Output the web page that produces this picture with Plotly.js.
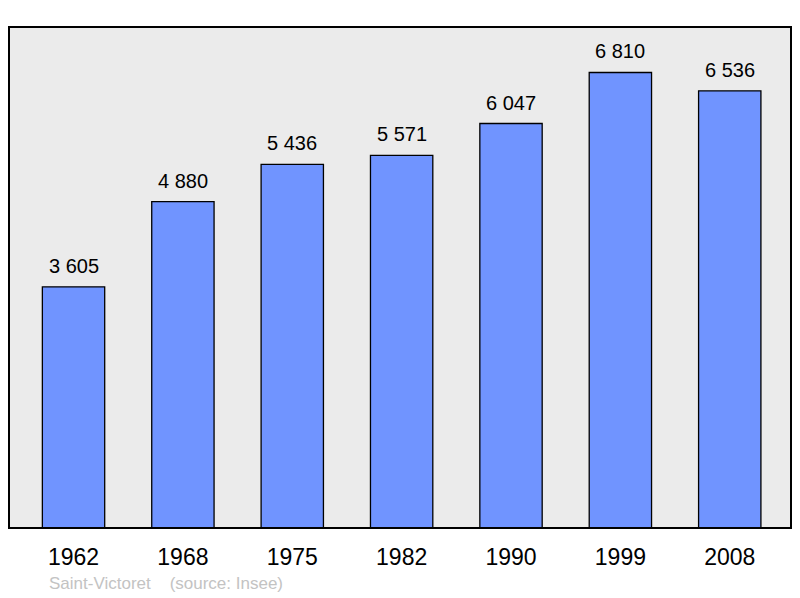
<!DOCTYPE html>
<html><head><meta charset="utf-8">
<script src="https://cdn.plot.ly/plotly-3.0.1.min.js"></script>
<style>html,body{margin:0;padding:0;background:#fff}#chart{width:800px;height:598px}</style>
</head><body><div id="chart"></div>
<script>
const years = ["1962","1968","1975","1982","1990","1999","2008"];
const population = [3605, 4880, 5436, 5571, 6047, 6810, 6536];
const valueLabels = ["3 605","4 880","5 436","5 571","6 047","6 810","6 536"];
const footer = "Saint-Victoret\u00a0\u00a0\u00a0\u00a0(source: Insee)";

const trace = {
  type: "bar", x: years, y: population, width: 0.57,
  marker: {color: "#7094ff", line: {color: "#000", width: 1.3}},
  hoverinfo: "skip"
};
const annotations = years.map((yr, i) => ({
  x: i, y: population[i], xref: "x", yref: "y", text: valueLabels[i],
  showarrow: false, yanchor: "bottom", yshift: 8,
  font: {family: "Liberation Sans, Arial, sans-serif", size: 20, color: "#000"}
}));
annotations.push({
  xref: "paper", yref: "paper", x: 0.049, y: -0.11, xanchor: "left", yanchor: "middle",
  text: footer, showarrow: false,
  font: {family: "Liberation Sans, Arial, sans-serif", size: 17, color: "#c3c3c3"}
});
const layout = {
  width: 800, height: 598,
  margin: {l: 9, r: 9, t: 27, b: 70, pad: 0},
  paper_bgcolor: "#fff", plot_bgcolor: "#ebebeb",
  showlegend: false, bargap: 0,
  xaxis: {type: "category", range: [-0.59, 6.56], showgrid: false, zeroline: false,
    showline: false, ticks: "outside", ticklen: 8, tickcolor: "rgba(0,0,0,0)",
    tickfont: {family: "Liberation Sans, Arial, sans-serif", size: 23, color: "#000"}},
  yaxis: {range: [0, 7490], visible: false, showgrid: false, zeroline: false},
  shapes: [{type: "rect", xref: "paper", yref: "paper", x0: 0, x1: 1, y0: 0, y1: 1,
    line: {color: "#000", width: 2}, fillcolor: "rgba(0,0,0,0)", layer: "above"}],
  annotations: annotations
};
Plotly.newPlot("chart", [trace], layout, {displayModeBar: false, staticPlot: true});
</script></body></html>
